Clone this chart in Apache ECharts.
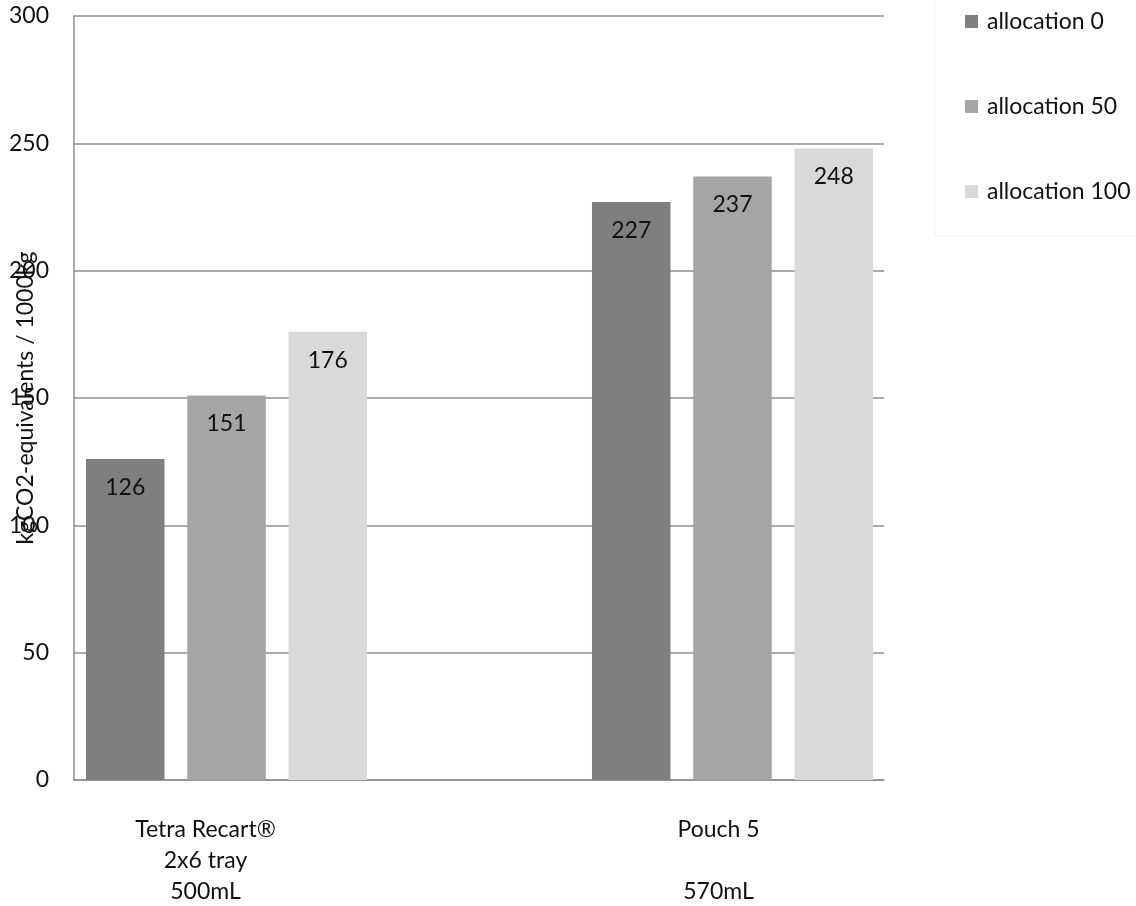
<!DOCTYPE html>
<html>
<head>
<meta charset="utf-8">
<script src="https://cdn.jsdelivr.net/npm/echarts@6/dist/echarts.min.js"></script>
<style>html,body{margin:0;padding:0;background:#fff;}#c{width:1136px;height:906px;}</style>
</head>
<body>
<div id="c"></div>
<script>
var categories = ['Tetra Recart®\n2x6 tray\n500mL', 'Pouch 5\n\n570mL'];
var seriesNames = ['allocation 0', 'allocation 50', 'allocation 100'];
var alloc0 = [126, 227];
var alloc50 = [151, 237];
var alloc100 = [176, 248];
var yTicks = [0, 50, 100, 150, 200, 250, 300];
var yName = 'kgCO2-equivalents / 1000kg';

var FONT = 'Lato';
var FS = 23;
var colors = ['#7f7f7f', '#a5a5a5', '#d9d9d9'];
var labelShift = [21, 14];

var chart = echarts.init(document.getElementById('c'));
var values = [alloc0, alloc50, alloc100];
chart.setOption({
  animation: false,
  backgroundColor: '#ffffff',
  textStyle: { fontFamily: FONT },
  legend: {
    orient: 'vertical',
    left: 935, top: -5,
    padding: [15, 20, 33, 30],
    itemGap: 62,
    itemWidth: 13, itemHeight: 13,
    icon: 'rect',
    borderColor: '#f1f1f1', borderWidth: 1,
    textStyle: { fontFamily: FONT, fontSize: FS, color: '#111', padding: [0, 0, 0, 4] },
    data: seriesNames
  },
  grid: [
    { left: 74, right: 252, top: 16, bottom: 126, outerBoundsMode: 'none', containLabel: false },
    { left: -26.5, width: 1012, top: 16, bottom: 126, outerBoundsMode: 'none', containLabel: false }
  ],
  xAxis: [
    { gridIndex: 0, type: 'value', min: 0, max: 1,
      axisLine: { show: true, onZero: false, lineStyle: { color: '#8e8e8e', width: 1.5 } },
      axisTick: { show: false }, axisLabel: { show: false }, splitLine: { show: false } },
    { gridIndex: 1, type: 'category',
      data: categories.map(function (c, i) {
        return { value: c, textStyle: { padding: [0, labelShift[i] * 2, 0, 0] } };
      }),
      axisLine: { show: false }, axisTick: { show: false },
      axisLabel: { interval: 0, margin: 34, fontFamily: FONT, fontSize: FS, lineHeight: 31, color: '#111' } }
  ],
  yAxis: [
    { gridIndex: 0, type: 'value', min: yTicks[0], max: yTicks[yTicks.length - 1], interval: 50,
      name: yName, nameLocation: 'middle', nameGap: 37, nameRotate: 90, nameMoveOverlap: false,
      nameTextStyle: { fontFamily: FONT, fontSize: FS, color: '#111' },
      axisLine: { show: true, lineStyle: { color: '#8e8e8e', width: 1.5 } },
      axisTick: { show: false },
      axisLabel: { margin: 25, fontFamily: FONT, fontSize: FS, color: '#111' },
      splitLine: { show: true, lineStyle: { color: '#8e8e8e', width: 1.5 } } },
    { gridIndex: 1, type: 'value', min: yTicks[0], max: yTicks[yTicks.length - 1], show: false }
  ],
  series: seriesNames.map(function (n, i) {
    return {
      name: n, type: 'bar', xAxisIndex: 1, yAxisIndex: 1,
      data: values[i],
      barWidth: 78.5, barGap: '29%',
      itemStyle: { color: colors[i] },
      label: { show: true, position: 'insideTop', distance: 17,
        fontFamily: FONT, fontSize: FS, color: '#111' }
    };
  })
});
</script>
</body>
</html>
